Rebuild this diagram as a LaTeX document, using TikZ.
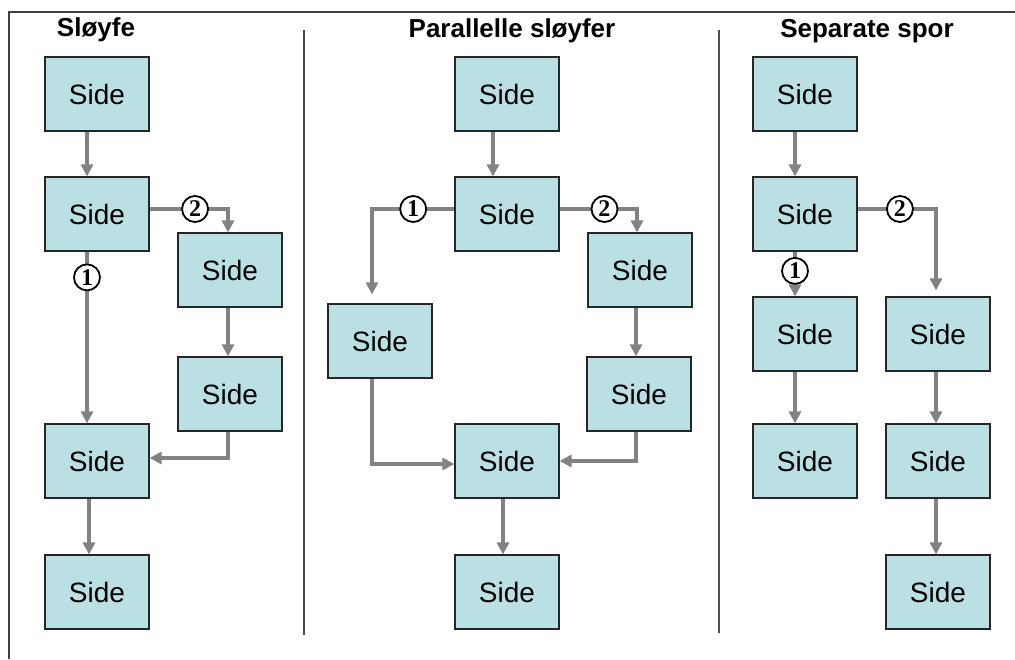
\documentclass[tikz,border=0pt]{standalone}
\usepackage{fontspec}
\setmainfont{Liberation Sans}
\newfontfamily\numfont{Liberation Serif}
\usetikzlibrary{arrows.meta}

\begin{document}
\begin{tikzpicture}[x=1pt,y=-1pt,
  box/.style={draw=black!85,line width=1.2pt,fill=boxcyan,minimum width=104pt,
    minimum height=74pt,inner sep=0pt,font=\fontsize{28}{30}\selectfont},
  flow/.style={draw=flowgray,line width=3.2pt,-{Triangle[length=12pt,width=12pt]}},
  num/.style={circle,draw=black,line width=1.8pt,fill=white,minimum size=26pt,
    inner sep=0pt,font=\numfont\bfseries\fontsize{24}{24}\selectfont},
  head/.style={anchor=base,font=\bfseries\fontsize{26}{28}\selectfont},
  sep/.style={draw=black!70,line width=1.2pt}]
\definecolor{boxcyan}{HTML}{BAE0E3}
\definecolor{flowgray}{HTML}{828282}
\path[use as bounding box] (0,0) rectangle (1015,659); % adjust bounding box
\draw[line width=1.2pt,black!75] (9,659) -- (9,12) -- (1015,12);
\draw[sep] (304,30) -- (304,635);
\draw[sep] (719,30) -- (719,633);

% Sløyfe
\node[head] (h1) at (96,36) {Sløyfe};
\node[box] (a1) at (97,94)  {Side};
\node[box] (a2) at (97,214) {Side};
\node[box] (a3) at (230,270) {Side};
\node[box] (a4) at (230,394) {Side};
\node[box] (a5) at (97,461) {Side};
\node[box] (a6) at (97,592) {Side};
\draw[flow] ([xshift=-10pt]a1.south) -- ([xshift=-10pt]a2.north);
\draw[flow] ([yshift=5pt]a2.east) -| node[num,pos=0.29]{2} ([xshift=-2pt]a3.north);
\draw[flow] ([xshift=-10pt]a2.south) -- node[num,pos=0.15]{1} ([xshift=-10pt]a5.north);
\draw[flow] ([xshift=-2pt]a3.south) -- ([xshift=-2pt]a4.north);
\draw[flow] ([xshift=-2pt]a4.south) |- ([yshift=3pt]a5.east);
\draw[flow] ([xshift=-8pt]a5.south) -- ([xshift=-8pt]a6.north);

% Parallelle sløyfer
\node[head] (h2) at (512,37) {Parallelle sløyfer};
\node[box] (b1) at (507,94)  {Side};
\node[box] (b2) at (507,214) {Side};
\node[box] (b3) at (380,341) {Side};
\node[box] (b4) at (640,270) {Side};
\node[box] (b5) at (639,394) {Side};
\node[box] (b6) at (507,461) {Side};
\node[box] (b7) at (507,592) {Side};
\draw[flow] ([xshift=-14pt]b1.south) -- ([xshift=-14pt]b2.north);
\draw[flow,shorten >=9pt] ([yshift=5pt]b2.west) -| node[num,pos=0.25]{1} ([xshift=-8pt]b3.north);
\draw[flow] ([yshift=5pt]b2.east) -| node[num,pos=0.29]{2} ([xshift=-3pt]b4.north);
\draw[flow] ([xshift=-4pt]b4.south) -- ([xshift=-3pt]b5.north);
\draw[flow] ([xshift=-3pt]b5.south) |- (b6.east);
\draw[flow] ([xshift=-8pt]b3.south) |- ([yshift=-3pt]b6.west);
\draw[flow] ([xshift=-4pt]b6.south) -- ([xshift=-4pt]b7.north);

% Separate spor
\node[head] (h3) at (867,37) {Separate spor};
\node[box] (c1) at (805,94)  {Side};
\node[box] (c2) at (805,214) {Side};
\node[box] (c3) at (805,334) {Side};
\node[box] (c4) at (938,334) {Side};
\node[box] (c5) at (805,461) {Side};
\node[box] (c6) at (938,461) {Side};
\node[box] (c7) at (938,592) {Side};
\draw[flow] ([xshift=-10pt]c1.south) -- ([xshift=-10pt]c2.north);
\draw[flow] ([xshift=-10pt]c2.south) -- node[num,pos=0.43]{1} ([xshift=-10pt]c3.north);
\draw[flow,shorten >=6pt] ([yshift=5pt]c2.east) -| node[num,pos=0.27]{2} ([xshift=-2pt]c4.north);
\draw[flow] ([xshift=-10pt]c3.south) -- ([xshift=-10pt]c5.north);
\draw[flow] ([xshift=-2pt]c4.south) -- ([xshift=-2pt]c6.north);
\draw[flow] ([xshift=-2pt]c6.south) -- ([xshift=-2pt]c7.north);
\end{tikzpicture}
\end{document}
